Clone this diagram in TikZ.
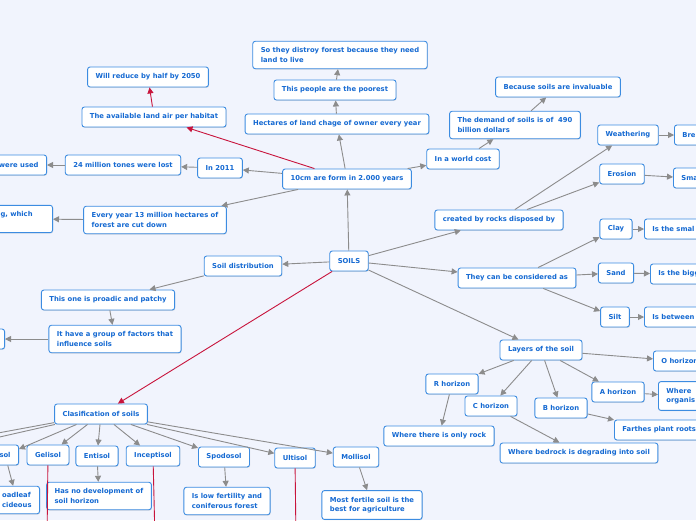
\documentclass[tikz,border=0pt]{standalone}
\usepackage{fontspec}
\setmainfont{DejaVu Sans}
\usetikzlibrary{arrows.meta,shadows}

\begin{document}
\begin{tikzpicture}[x=1pt,y=-1pt,
  topic/.style={draw=blue1,line width=0.9pt,fill=white,rounded corners=2.5pt,
    text=blue2,font=\fontsize{6.8}{9.2}\selectfont\bfseries,align=left,
    inner xsep=8pt,inner ysep=6.5pt,minimum height=20pt,
    drop shadow={shadow xshift=0.6pt,shadow yshift=-0.8pt,opacity=0.25}},
  link/.style={draw=gray1,line width=0.9pt,-{Triangle[length=6pt,width=6pt]}},
  redlink/.style={link,draw=red1}]
\definecolor{blue1}{RGB}{60,140,225}
\definecolor{blue2}{RGB}{20,105,210}
\definecolor{gray1}{RGB}{140,140,140}
\definecolor{red1}{RGB}{200,20,60}
\definecolor{back1}{RGB}{241,244,253}
\useasboundingbox (0,0) rectangle (696,520);
\clip (0,0) rectangle (696,520);
\fill[back1] (0,0) rectangle (696,520);

% centre and upper branch
\node[topic] (soils) at (349,261) {SOILS};
\node[topic] (form) at (347,179) {10cm are form in 2.000 years};
\node[topic] (owner) at (337,124) {Hectares of land chage of owner every year};
\node[topic] (poor) at (335,90) {This people are the poorest};
\node[topic] (destroy) at (340,55) {So they distroy forest because they need\\land to live};
\node[topic] (year) at (220,168) {In 2011};
\node[topic] (lost) at (123,165) {24 million tones were lost};
\node[topic,anchor=east] (used) at (47,165) {were used};
\node[topic] (cut) at (155,220) {Every year 13 million hectares of\\forest are cut down};
\node[topic,anchor=east,text width=44pt] (which) at (53,219) {g, which\\~};
\node[topic] (land) at (154,117) {The available land air per habitat};
\node[topic] (half) at (148,77) {Will reduce by half by 2050};
\node[topic] (cost) at (463,159) {In a world cost};
\node[topic] (demand) at (515,125) {The demand of soils is of~ 490\\billion dollars};
\node[topic] (invalu) at (558,87) {Because soils are invaluable};

% distribution and classification
\node[topic] (dist) at (243,266) {Soil distribution};
\node[topic] (patchy) at (108,300) {This one is proadic and patchy};
\node[topic] (factors) at (115,339) {It have a group of factors that\\influence soils};
\node[topic,anchor=east,minimum width=30pt] (hidden) at (5,339) {};
\node[topic] (class) at (101,414) {Clasification of soils};
\node[topic,anchor=east] (sol) at (19,455) {sol};
\node[topic] (gelisol) at (48,455) {Gelisol};
\node[topic] (entisol) at (97,456) {Entisol};
\node[topic] (incept) at (153,456) {Inceptisol};
\node[topic] (spodo) at (224,457) {Spodosol};
\node[topic] (ulti) at (295,458) {Ultisol};
\node[topic] (molli) at (356,457) {Mollisol};
\node[topic,anchor=east] (leaf) at (40,500) {oadleaf\\cideous};
\node[topic] (nohor) at (99,496) {Has no development of\\soil horizon};
\node[topic] (lowfert) at (227,501) {Is low fertility and\\coniferous forest};
\node[topic] (fertile) at (372,505) {Most fertile soil is the\\best for agriculture};
\coordinate (offA) at (-40,440);
\coordinate (offB) at (-40,446);
\coordinate (downG) at (47,540);
\coordinate (downI) at (155,540);
\coordinate (downU) at (296,540);

% rocks and texture
\node[topic] (rocks) at (499,220) {created by rocks disposed by};
\node[topic] (weather) at (628,135) {Weathering};
\node[topic,anchor=west] (bre) at (674,135) {Bre};
\node[topic] (erosion) at (622,174) {Erosion};
\node[topic,anchor=west] (sma) at (673,178) {Sma};
\node[topic] (consid) at (517,278) {They can be considered as};
\node[topic] (clay) at (616,229) {Clay};
\node[topic,anchor=west] (smal) at (644,229) {Is the smal};
\node[topic] (sand) at (616,273) {Sand};
\node[topic,anchor=west] (bigg) at (650,274) {Is the bigg};
\node[topic] (silt) at (615,317) {Silt};
\node[topic,anchor=west] (betw) at (644,317) {Is between};

% layers
\node[topic] (layers) at (541,350) {Layers of the soil};
\node[topic,anchor=west] (ohor) at (653,361) {O horizon};
\node[topic] (ahor) at (618,392) {A horizon};
\node[topic,anchor=west] (organ) at (658,396) {Where\\organis};
\node[topic,anchor=west] (roots) at (614,430) {Farthes plant roots};
\node[topic] (bhor) at (561,408) {B horizon};
\node[topic] (chor) at (491,406) {C horizon};
\node[topic] (rhor) at (452,384) {R horizon};
\node[topic] (onlyrock) at (439,436) {Where there is only rock};
\node[topic] (bedrock) at (579,453) {Where bedrock is degrading into soil};

% connectors
\draw[link] (soils) -- (form);
\draw[link] (form) -- (owner);
\draw[link] (owner) -- (poor);
\draw[link] (poor) -- (destroy);
\draw[link] (form) -- (year);
\draw[link] (year) -- (lost);
\draw[link] (lost) -- (used);
\draw[link] (form) -- (cut);
\draw[link] (cut) -- (which);
\draw[redlink] (form) -- (land);
\draw[redlink] (land) -- (half);
\draw[link] (form) -- (cost);
\draw[link] (cost) -- (demand);
\draw[link] (demand) -- (invalu);
\draw[link] (soils) -- (dist);
\draw[link] (dist) -- (patchy);
\draw[link] (patchy) -- (factors);
\draw[link] (factors) -- (hidden);
\draw[redlink] (soils) -- (class);
\draw[link] (class) -- (offA);
\draw[link] (class) -- (offB);
\draw[link] (class) -- (sol);
\draw[link] (class) -- (gelisol);
\draw[link] (class) -- (entisol);
\draw[link] (class) -- (incept);
\draw[link] (class) -- (spodo);
\draw[link] (class) -- (ulti);
\draw[link] (class) -- (molli);
\draw[link] (sol) -- (leaf);
\draw[link] (entisol) -- (nohor);
\draw[link] (spodo) -- (lowfert);
\draw[link] (molli) -- (fertile);
\draw[redlink] (gelisol) -- (downG);
\draw[redlink] (incept) -- (downI);
\draw[redlink] (ulti) -- (downU);
\draw[link] (soils) -- (rocks);
\draw[link] (rocks) -- (weather);
\draw[link] (rocks) -- (erosion);
\draw[link] (weather) -- (bre);
\draw[link] (erosion) -- (sma);
\draw[link] (soils) -- (consid);
\draw[link] (consid) -- (clay);
\draw[link] (consid) -- (sand);
\draw[link] (consid) -- (silt);
\draw[link] (clay) -- (smal);
\draw[link] (sand) -- (bigg);
\draw[link] (silt) -- (betw);
\draw[link] (soils) -- (layers);
\draw[link] (layers) -- (ohor);
\draw[link] (layers) -- (ahor);
\draw[link] (layers) -- (bhor);
\draw[link] (layers) -- (chor);
\draw[link] (layers) -- (rhor);
\draw[link] (ahor) -- (organ);
\draw[link] (bhor) -- (roots);
\draw[link] (chor) -- (bedrock);
\draw[link] (rhor) -- (onlyrock);
\end{tikzpicture}
\end{document}
